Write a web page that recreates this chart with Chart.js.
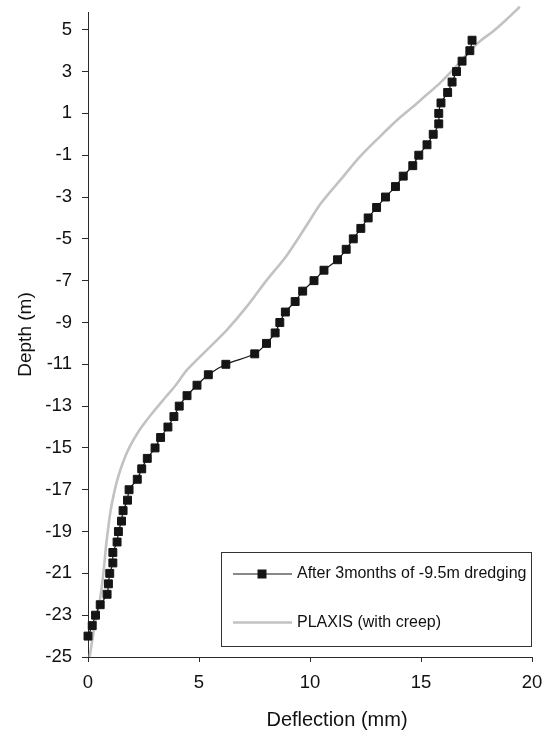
<!DOCTYPE html>
<html>
<head>
<meta charset="utf-8">
<script src="https://cdn.jsdelivr.net/npm/chart.js@4.4.1/dist/chart.umd.min.js"></script>
<style>
  html, body { margin: 0; padding: 0; background: #ffffff; }
  #wrap { width: 552px; height: 732px; }
</style>
</head>
<body>
<div id="wrap"><canvas id="c" width="552" height="732"></canvas></div>
<script>
// ---- Data ----
const obsLabel = "After 3months of -9.5m dredging";
const plaxisLabel = "PLAXIS (with creep)";

const obsDepth = [4.5, 4.0, 3.5, 3.0, 2.5, 2.0, 1.5, 1.0, 0.5, 0.0,
  -0.5, -1.0, -1.5, -2.0, -2.5, -3.0, -3.5, -4.0, -4.5, -5.0,
  -5.5, -6.0, -6.5, -7.0, -7.5, -8.0, -8.5, -9.0, -9.5, -10.0,
  -10.5, -11.0, -11.5, -12.0, -12.5, -13.0, -13.5, -14.0, -14.5, -15.0,
  -15.5, -16.0, -16.5, -17.0, -17.5, -18.0, -18.5, -19.0, -19.5, -20.0,
  -20.5, -21.0, -21.5, -22.0, -22.5, -23.0, -23.5, -24.0];
const obsDeflection = [17.3, 17.2, 16.85, 16.6, 16.4, 16.2, 15.9, 15.8, 15.8, 15.55,
  15.27, 14.9, 14.63, 14.2, 13.85, 13.4, 13.0, 12.62, 12.29, 11.95,
  11.63, 11.24, 10.63, 10.18, 9.67, 9.33, 8.89, 8.64, 8.43, 8.04,
  7.51, 6.21, 5.42, 4.91, 4.46, 4.11, 3.87, 3.60, 3.27, 3.02,
  2.67, 2.42, 2.22, 1.85, 1.78, 1.58, 1.51, 1.37, 1.31, 1.12,
  1.12, 0.98, 0.92, 0.86, 0.55, 0.34, 0.19, 0.0];

const plaxisDepth = [6.1, 5.48, 4.92, 4.44, 3.80, 3.09, 2.45, 1.89, 1.33, 0.80,
  -0.10, -1.06, -2.17, -3.29, -4.40, -5.84, -6.96, -8.23, -9.35, -10.31,
  -11.27, -12.0, -12.54, -13.34, -14.14, -14.94, -15.73, -16.53, -17.33, -18.12,
  -18.92, -19.72, -20.51, -21.31, -22.11, -22.90, -23.70, -24.82, -25.0];
const plaxisDeflection = [19.45, 18.84, 18.24, 17.64, 17.04, 16.45, 15.85, 15.25, 14.65, 14.05,
  13.16, 12.26, 11.38, 10.50, 9.82, 8.92, 8.06, 7.16, 6.26, 5.36,
  4.46, 3.95, 3.52, 2.89, 2.32, 1.88, 1.56, 1.32, 1.14, 1.00,
  0.90, 0.81, 0.74, 0.66, 0.56, 0.42, 0.27, 0.10, 0.08];

const xTickValues = [0, 5, 10, 15, 20];
const yTickValues = [-25, -23, -21, -19, -17, -15, -13, -11, -9, -7, -5, -3, -1, 1, 3, 5];
const xTitle = "Deflection (mm)";
const yTitle = "Depth (m)";

// ---- Styles ----
const FONT = "'Liberation Sans', Arial, Helvetica, sans-serif";
const obsColor = "#151515";
const plaxisColor = "#c2c2c2";
const axisColor = "#2a2a2a";

const toPoints = (xs, ys) => xs.map((x, i) => ({ x: x, y: ys[i] }));

// Legend box drawn inside the plot, lower right
const legendBoxPlugin = {
  id: 'legendBox',
  afterDraw(chart) {
    const ctx = chart.ctx;
    const ds = chart.data.datasets;
    const box = { l: 221, t: 552, r: 531, b: 646 };
    ctx.save();
    ctx.strokeStyle = "#333";
    ctx.lineWidth = 1;
    ctx.fillStyle = "#ffffff";
    ctx.fillRect(box.l, box.t, box.r - box.l, box.b - box.t);
    ctx.strokeRect(box.l + 0.5, box.t + 0.5, box.r - box.l, box.b - box.t);
    const rows = [574, 622.5];
    ds.forEach((d, i) => {
      const y = rows[i];
      ctx.beginPath();
      ctx.strokeStyle = d.borderColor;
      ctx.lineWidth = d.borderWidth;
      ctx.moveTo(233, y);
      ctx.lineTo(292, y);
      ctx.stroke();
      if (d.pointRadius > 0) {
        ctx.fillStyle = d.pointBackgroundColor;
        ctx.fillRect(257.5, y - 4.5, 9, 9);
      }
      ctx.fillStyle = "#111";
      ctx.font = "16px " + FONT;
      ctx.textBaseline = "middle";
      ctx.textAlign = "left";
      ctx.fillText(d.label, 297, y);
    });
    ctx.restore();
  }
};

// X axis title (sits slightly right of the plot centre in the reference)
const xTitlePlugin = {
  id: 'xTitle',
  afterDraw(chart) {
    const ctx = chart.ctx;
    ctx.save();
    ctx.fillStyle = "#111";
    ctx.font = "20px " + FONT;
    ctx.textAlign = "center";
    ctx.textBaseline = "middle";
    ctx.fillText(xTitle, 337, 720);
    ctx.restore();
  }
};

new Chart(document.getElementById('c'), {
  type: 'scatter',
  data: {
    datasets: [
      {
        label: obsLabel,
        data: toPoints(obsDeflection, obsDepth),
        showLine: true,
        borderColor: obsColor,
        borderWidth: 1.2,
        tension: 0.35,
        pointStyle: 'rect',
        pointRadius: 5.6,
        pointBorderWidth: 1,
        pointBackgroundColor: obsColor,
        pointBorderColor: obsColor,
        clip: false
      },
      {
        label: plaxisLabel,
        data: toPoints(plaxisDeflection, plaxisDepth),
        showLine: true,
        borderColor: plaxisColor,
        borderWidth: 2.6,
        tension: 0.3,
        pointRadius: 0,
        clip: false
      }
    ]
  },
  options: {
    responsive: false,
    animation: false,
    devicePixelRatio: 1,
    layout: { padding: { left: 0, right: 20, top: 12, bottom: 0 } },
    plugins: {
      legend: { display: false },
      tooltip: { enabled: false }
    },
    scales: {
      x: {
        type: 'linear',
        min: 0, max: 20,
        afterBuildTicks: (s) => { s.ticks = xTickValues.map(v => ({ value: v })); },
        afterFit: (s) => { s.height = 75; s.paddingLeft = 0; s.paddingRight = 0; },
        grid: { drawOnChartArea: false, drawTicks: true, tickLength: 5, tickColor: axisColor },
        border: { display: true, color: axisColor, width: 1 },
        ticks: { color: "#111", font: { family: FONT, size: 18.5 }, padding: 10, maxRotation: 0 },
        title: { display: false }
      },
      y: {
        type: 'linear',
        min: -25, max: 5.85,
        afterBuildTicks: (s) => { s.ticks = yTickValues.map(v => ({ value: v })); },
        afterFit: (s) => { s.width = 88; s.paddingTop = 0; s.paddingBottom = 0; },
        grid: { drawOnChartArea: false, drawTicks: true, tickLength: 6, tickColor: axisColor },
        border: { display: true, color: axisColor, width: 1 },
        ticks: { color: "#111", font: { family: FONT, size: 18.5 }, padding: 10 },
        title: { display: true, text: yTitle, color: "#111", font: { family: FONT, size: 19 }, padding: { top: 14, bottom: 0 } }
      }
    }
  },
  plugins: [legendBoxPlugin, xTitlePlugin]
});
</script>
</body>
</html>
